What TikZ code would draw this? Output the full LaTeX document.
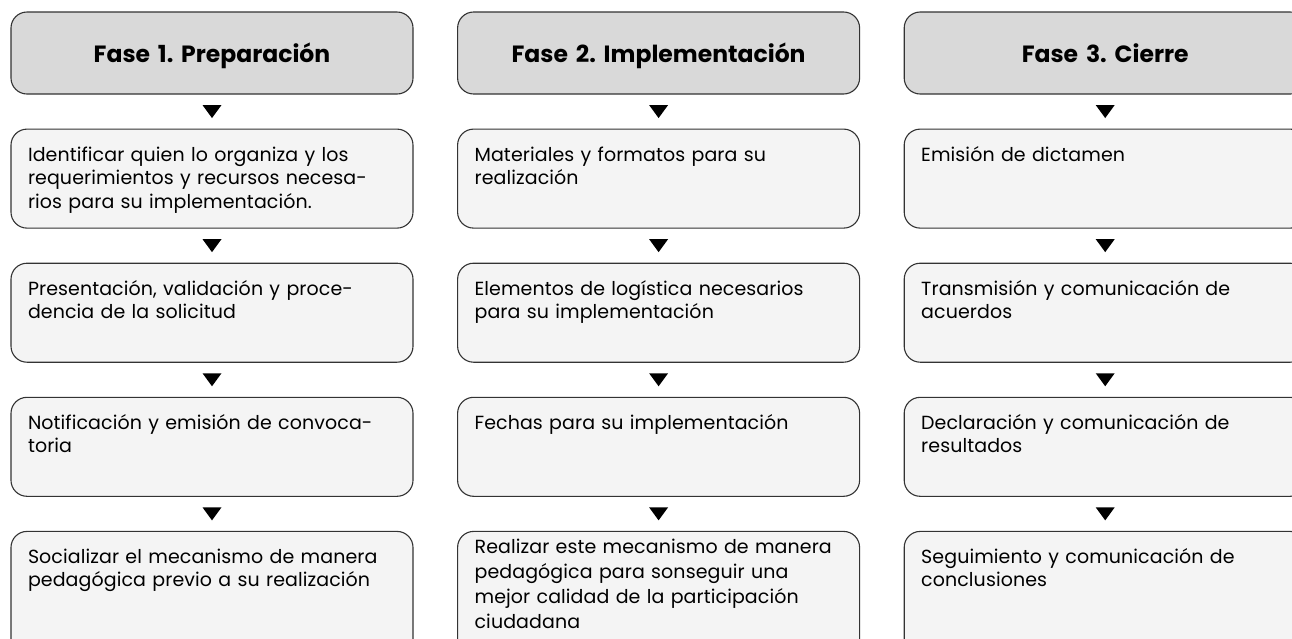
\documentclass[tikz,border=0pt]{standalone}
\usepackage{fontspec}
\setmainfont{Poppins}
\newfontfamily\bodyfont[LetterSpace=0.5]{Poppins}
\usepackage{xcolor}
\usepackage{tikz}
\usetikzlibrary{positioning,calc}
\frenchspacing

\definecolor{headgray}{HTML}{D9D9D9}
\definecolor{boxgray}{HTML}{F4F4F4}
\definecolor{edgegray}{HTML}{333333}

\tikzstyle{phase} = [rectangle, rounded corners=16pt, text width=368pt, inner xsep=17pt, minimum height=82pt, text height=18pt, text depth=0pt, align=center, draw=edgegray, line width=1.1pt, fill=headgray, font=\fontsize{23.5}{26}\selectfont\bfseries]
\tikzstyle{task} = [rectangle, rounded corners=16pt, text width=368pt, inner xsep=17pt, inner ysep=0pt, text height=32pt, text depth=67pt, align=left, draw=edgegray, line width=1.1pt, fill=boxgray, font=\bodyfont\fontsize{19}{23.5}\selectfont]
\tikzstyle{endbox} = [text depth=110pt]
\newcommand{\marker}[2]{\fill ($(#1.south)!0.5!(#2.north)$) +(-9.5pt,6.5pt) -- +(9.5pt,6.5pt) -- +(0pt,-6.5pt) -- cycle;}

\begin{document}
\begin{tikzpicture}[node distance = 34pt and 43.5pt]

	\clip (0,0) rectangle (1292pt,-638pt);

	\node (h1) [phase] at (212pt,-53pt) {Fase 1. Preparación};
	\node (h2) [phase, right=of h1] {Fase 2. Implementación};
	\node (h3) [phase, right=of h2] {Fase 3. Cierre};

	% fase 1
	\node (p1) [task, below=of h1] {Identificar quien lo organiza y los\\requerimientos y recursos necesa-\\rios para su implementación.};
	\node (p2) [task, below=of p1] {Presentación, validación y proce-\\dencia de la solicitud};
	\node (p3) [task, below=of p2] {Notificación y emisión de convoca-\\toria};
	\node (p4) [task, endbox, below=of p3] {Socializar el mecanismo de manera\\pedagógica previo a su realización};

	% fase 2
	\node (i1) [task, below=of h2] {Materiales y formatos para su\\realización};
	\node (i2) [task, below=of i1] {Elementos de logística necesarios\\para su implementación};
	\node (i3) [task, below=of i2] {Fechas para su implementación};
	\node (i4) [task, endbox, text height=22pt, below=of i3, font=\bodyfont\fontsize{19}{25}\selectfont] {Realizar este mecanismo de manera\\pedagógica para sonseguir una\\mejor calidad de la participación\\ciudadana};

	% fase 3
	\node (c1) [task, below=of h3] {Emisión de dictamen};
	\node (c2) [task, below=of c1] {Transmisión y comunicación de\\acuerdos};
	\node (c3) [task, below=of c2] {Declaración y comunicación de\\resultados};
	\node (c4) [task, endbox, below=of c3] {Seguimiento y comunicación de\\conclusiones};

	\marker{h1}{p1} \marker{p1}{p2} \marker{p2}{p3} \marker{p3}{p4}
	\marker{h2}{i1} \marker{i1}{i2} \marker{i2}{i3} \marker{i3}{i4}
	\marker{h3}{c1} \marker{c1}{c2} \marker{c2}{c3} \marker{c3}{c4}

\end{tikzpicture}
\end{document}
